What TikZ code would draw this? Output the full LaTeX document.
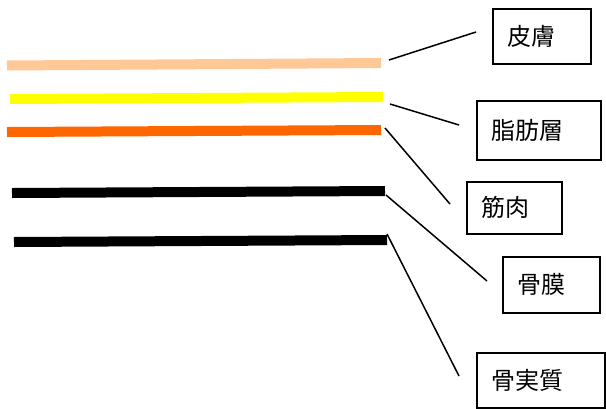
\documentclass[tikz,border=0pt]{standalone}
\usepackage{fontspec}
\newfontfamily\jpfont{Noto Sans CJK JP}
\definecolor{peach}{RGB}{255,200,150}
\definecolor{yel}{RGB}{255,255,0}
\definecolor{orng}{RGB}{255,102,0}
\begin{document}
\begin{tikzpicture}[x=1pt,y=-1pt,
  layer/.style={line width=10pt},
  conn/.style={line width=1.5pt},
  lbl/.style={draw,line width=1.6pt,inner xsep=15pt,inner ysep=0pt,align=left,
    font=\jpfont\fontsize{24}{27}\selectfont,anchor=north west}]
\useasboundingbox (0,0) rectangle (606,408);
% layers
\coordinate (l1a) at (7,65.5);  \coordinate (l1b) at (381,63);
\coordinate (l2a) at (10,99);   \coordinate (l2b) at (383,97);
\coordinate (l3a) at (7,132);   \coordinate (l3b) at (381,130);
\coordinate (l4a) at (12,193);  \coordinate (l4b) at (385,191);
\coordinate (l5a) at (14,242);  \coordinate (l5b) at (387,240);
\draw[layer,peach] (l1a) -- (l1b);
\draw[layer,yel] (l2a) -- (l2b);
\draw[layer,orng] (l3a) -- (l3b);
\draw[layer,black] (l4a) -- (l4b);
\draw[layer,black] (l5a) -- (l5b);
% boxes
\node[lbl,text width=68pt,minimum height=55pt] (b1) at (492,8) {皮膚};
\node[lbl,text width=94pt,minimum height=59pt] (b2) at (476,100) {脂肪層};
\node[lbl,text width=65pt,minimum height=52pt] (b3) at (466,181) {筋肉};
\node[lbl,text width=67pt,minimum height=56pt] (b4) at (502,256) {骨膜};
\node[lbl,text width=98pt,minimum height=55pt] (b5) at (476,352) {骨実質};
% connectors
\coordinate (s1) at (389,60);  \coordinate (e1) at (476,32);
\coordinate (s2) at (390,104); \coordinate (e2) at (459,125);
\coordinate (s3) at (385,128); \coordinate (e3) at (450,204);
\coordinate (s4) at (386,195); \coordinate (e4) at (487,281);
\coordinate (s5) at (387,234); \coordinate (e5) at (459,376);
\draw[conn] (s1) -- (e1);
\draw[conn] (s2) -- (e2);
\draw[conn] (s3) -- (e3);
\draw[conn] (s4) -- (e4);
\draw[conn] (s5) -- (e5);
\end{tikzpicture}
\end{document}
